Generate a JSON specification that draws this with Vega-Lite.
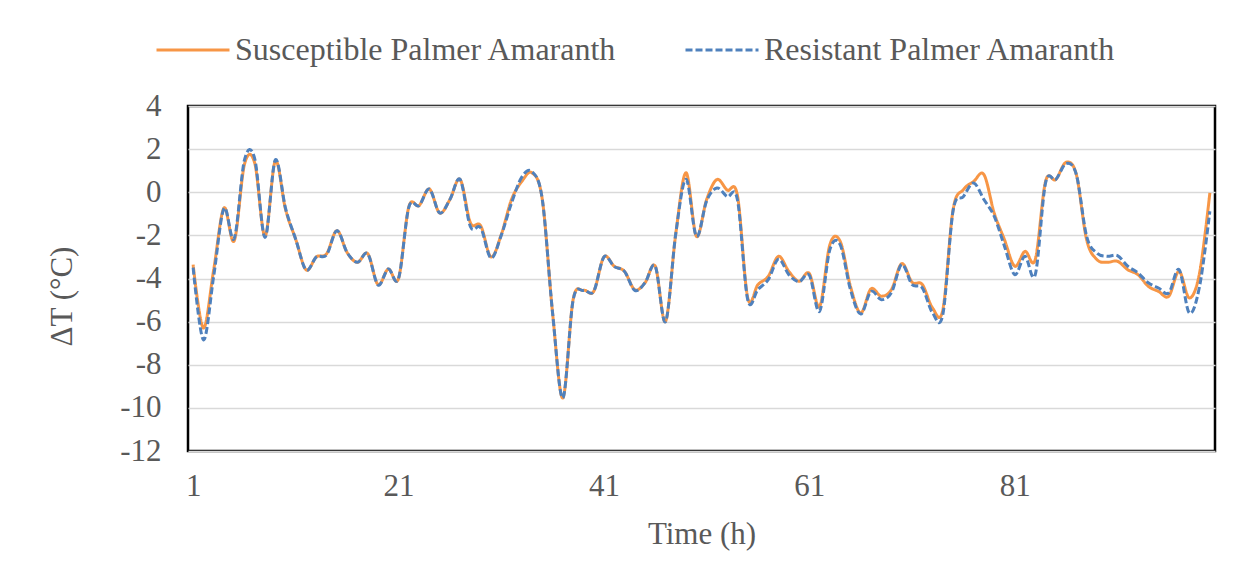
{
  "$schema": "https://vega.github.io/schema/vega-lite/v6.json",
  "width": 1027,
  "height": 345,
  "autosize": {"type": "none"},
  "padding": {"left": 188, "top": 106, "right": 29, "bottom": 128},
  "background": "white",
  "config": {
    "font": "Liberation Serif",
    "view": {"stroke": "black", "strokeWidth": 2.5},
    "axis": {"labelFont": "Liberation Serif", "titleFont": "Liberation Serif", "labelColor": "#595959", "titleColor": "#595959", "labelFontSize": 31, "titleFontSize": 31, "titleFontWeight": "normal"},
    "legend": {"labelFont": "Liberation Serif", "labelColor": "#595959", "labelFontSize": 32}
  },
  "data": {
    "values": [
      {"h": 1, "Susceptible": -3.36, "Resistant": -3.5},
      {"h": 2, "Susceptible": -6.3, "Resistant": -6.85},
      {"h": 3, "Susceptible": -3.6, "Resistant": -3.9},
      {"h": 4, "Susceptible": -0.73, "Resistant": -0.75},
      {"h": 5, "Susceptible": -2.25, "Resistant": -2.15},
      {"h": 6, "Susceptible": 1.3, "Resistant": 1.5},
      {"h": 7, "Susceptible": 1.35, "Resistant": 1.55},
      {"h": 8, "Susceptible": -2.04, "Resistant": -2.1},
      {"h": 9, "Susceptible": 1.45, "Resistant": 1.5},
      {"h": 10, "Susceptible": -0.8, "Resistant": -0.75},
      {"h": 11, "Susceptible": -2.2, "Resistant": -2.2},
      {"h": 12, "Susceptible": -3.6, "Resistant": -3.6},
      {"h": 13, "Susceptible": -3.0, "Resistant": -3.0},
      {"h": 14, "Susceptible": -2.85, "Resistant": -2.9},
      {"h": 15, "Susceptible": -1.78, "Resistant": -1.78},
      {"h": 16, "Susceptible": -2.8, "Resistant": -2.8},
      {"h": 17, "Susceptible": -3.25, "Resistant": -3.25},
      {"h": 18, "Susceptible": -2.85, "Resistant": -2.85},
      {"h": 19, "Susceptible": -4.28, "Resistant": -4.3},
      {"h": 20, "Susceptible": -3.56, "Resistant": -3.56},
      {"h": 21, "Susceptible": -4.0, "Resistant": -4.0},
      {"h": 22, "Susceptible": -0.68, "Resistant": -0.7},
      {"h": 23, "Susceptible": -0.62, "Resistant": -0.62},
      {"h": 24, "Susceptible": 0.15, "Resistant": 0.15},
      {"h": 25, "Susceptible": -0.96, "Resistant": -0.96},
      {"h": 26, "Susceptible": -0.34, "Resistant": -0.34},
      {"h": 27, "Susceptible": 0.59, "Resistant": 0.59},
      {"h": 28, "Susceptible": -1.42, "Resistant": -1.6},
      {"h": 29, "Susceptible": -1.55, "Resistant": -1.65},
      {"h": 30, "Susceptible": -3.0, "Resistant": -3.05},
      {"h": 31, "Susceptible": -1.97, "Resistant": -2.0},
      {"h": 32, "Susceptible": -0.34, "Resistant": -0.5},
      {"h": 33, "Susceptible": 0.5, "Resistant": 0.7},
      {"h": 34, "Susceptible": 0.9, "Resistant": 0.95},
      {"h": 35, "Susceptible": -0.34, "Resistant": -0.34},
      {"h": 36, "Susceptible": -5.6, "Resistant": -5.6},
      {"h": 37, "Susceptible": -9.54, "Resistant": -9.54},
      {"h": 38, "Susceptible": -4.98, "Resistant": -5.0},
      {"h": 39, "Susceptible": -4.55, "Resistant": -4.55},
      {"h": 40, "Susceptible": -4.6, "Resistant": -4.6},
      {"h": 41, "Susceptible": -3.0, "Resistant": -3.0},
      {"h": 42, "Susceptible": -3.43, "Resistant": -3.45},
      {"h": 43, "Susceptible": -3.67, "Resistant": -3.67},
      {"h": 44, "Susceptible": -4.52, "Resistant": -4.55},
      {"h": 45, "Susceptible": -4.2, "Resistant": -4.2},
      {"h": 46, "Susceptible": -3.43, "Resistant": -3.43},
      {"h": 47, "Susceptible": -5.99, "Resistant": -6.0},
      {"h": 48, "Susceptible": -1.9, "Resistant": -1.9},
      {"h": 49, "Susceptible": 0.9, "Resistant": 0.6},
      {"h": 50, "Susceptible": -2.04, "Resistant": -2.04},
      {"h": 51, "Susceptible": -0.34, "Resistant": -0.4},
      {"h": 52, "Susceptible": 0.59, "Resistant": 0.2},
      {"h": 53, "Susceptible": 0.1, "Resistant": -0.2},
      {"h": 54, "Susceptible": -0.15, "Resistant": -0.35},
      {"h": 55, "Susceptible": -4.9, "Resistant": -4.98},
      {"h": 56, "Susceptible": -4.28, "Resistant": -4.5},
      {"h": 57, "Susceptible": -3.9, "Resistant": -4.05},
      {"h": 58, "Susceptible": -2.97, "Resistant": -3.1},
      {"h": 59, "Susceptible": -3.67, "Resistant": -3.82},
      {"h": 60, "Susceptible": -4.13, "Resistant": -4.15},
      {"h": 61, "Susceptible": -3.77, "Resistant": -3.85},
      {"h": 62, "Susceptible": -5.3, "Resistant": -5.52},
      {"h": 63, "Susceptible": -2.43, "Resistant": -2.66},
      {"h": 64, "Susceptible": -2.27, "Resistant": -2.43},
      {"h": 65, "Susceptible": -4.36, "Resistant": -4.51},
      {"h": 66, "Susceptible": -5.6, "Resistant": -5.65},
      {"h": 67, "Susceptible": -4.48, "Resistant": -4.6},
      {"h": 68, "Susceptible": -4.82, "Resistant": -4.98},
      {"h": 69, "Susceptible": -4.51, "Resistant": -4.65},
      {"h": 70, "Susceptible": -3.31, "Resistant": -3.35},
      {"h": 71, "Susceptible": -4.17, "Resistant": -4.28},
      {"h": 72, "Susceptible": -4.28, "Resistant": -4.44},
      {"h": 73, "Susceptible": -5.37, "Resistant": -5.6},
      {"h": 74, "Susceptible": -5.45, "Resistant": -5.67},
      {"h": 75, "Susceptible": -0.8, "Resistant": -0.85},
      {"h": 76, "Susceptible": 0.12, "Resistant": -0.2},
      {"h": 77, "Susceptible": 0.5, "Resistant": 0.43},
      {"h": 78, "Susceptible": 0.82, "Resistant": -0.34},
      {"h": 79, "Susceptible": -0.96, "Resistant": -1.11},
      {"h": 80, "Susceptible": -2.2, "Resistant": -2.5},
      {"h": 81, "Susceptible": -3.43, "Resistant": -3.82},
      {"h": 82, "Susceptible": -2.74, "Resistant": -2.97},
      {"h": 83, "Susceptible": -3.12, "Resistant": -3.82},
      {"h": 84, "Susceptible": 0.5, "Resistant": 0.43},
      {"h": 85, "Susceptible": 0.59, "Resistant": 0.59},
      {"h": 86, "Susceptible": 1.39, "Resistant": 1.33},
      {"h": 87, "Susceptible": 0.82, "Resistant": 0.82},
      {"h": 88, "Susceptible": -2.2, "Resistant": -2.04},
      {"h": 89, "Susceptible": -3.12, "Resistant": -2.82},
      {"h": 90, "Susceptible": -3.25, "Resistant": -2.97},
      {"h": 91, "Susceptible": -3.2, "Resistant": -2.94},
      {"h": 92, "Susceptible": -3.59, "Resistant": -3.43},
      {"h": 93, "Susceptible": -3.82, "Resistant": -3.74},
      {"h": 94, "Susceptible": -4.36, "Resistant": -4.2},
      {"h": 95, "Susceptible": -4.6, "Resistant": -4.44},
      {"h": 96, "Susceptible": -4.82, "Resistant": -4.67},
      {"h": 97, "Susceptible": -3.67, "Resistant": -3.59},
      {"h": 98, "Susceptible": -4.9, "Resistant": -5.6},
      {"h": 99, "Susceptible": -3.74, "Resistant": -4.36},
      {"h": 100, "Susceptible": -0.03, "Resistant": -0.88}
    ]
  },
  "transform": [{"fold": ["Susceptible", "Resistant"], "as": ["series", "dT"]}],
  "mark": {"type": "line", "interpolate": "cardinal", "strokeWidth": 3},
  "encoding": {
    "x": {
      "field": "h", "type": "quantitative",
      "scale": {"domain": [0.5, 100.5], "nice": false, "zero": false},
      "axis": {"values": [1, 21, 41, 61, 81], "grid": false, "ticks": false, "domain": false, "labelPadding": 20, "title": "Time (h)", "titlePadding": 18, "labelFlush": false}
    },
    "y": {
      "field": "dT", "type": "quantitative",
      "scale": {"domain": [-12, 4], "nice": false},
      "axis": {"values": [-12, -10, -8, -6, -4, -2, 0, 2, 4], "labelExpr": "'' + datum.value", "grid": true, "gridColor": "#D9D9D9", "gridWidth": 1.5, "ticks": false, "tickSize": 0, "domain": false, "labelPadding": 27, "title": "ΔT (°C)", "titleAngle": 270, "titleAlign": "center", "titleBaseline": "middle", "titleX": -126, "titleY": 190}
    },
    "color": {
      "field": "series", "type": "nominal",
      "scale": {"domain": ["Susceptible", "Resistant"], "range": ["#F79646", "#4F81BD"]},
      "legend": {"title": null, "orient": "none", "legendX": -33, "legendY": -94, "direction": "horizontal", "columns": 2, "columnPadding": 61, "padding": 0, "symbolType": "stroke", "symbolSize": 5329, "symbolStrokeWidth": 3, "labelOffset": 4, "labelExpr": "datum.label + ' Palmer Amaranth'", "labelLimit": 0}
    },
    "strokeDash": {
      "field": "series", "type": "nominal",
      "scale": {"domain": ["Susceptible", "Resistant"], "range": [[1, 0], [7, 3]]},
      "legend": {"title": null, "orient": "none", "legendX": -33, "legendY": -94, "direction": "horizontal", "columns": 2, "columnPadding": 61, "padding": 0, "symbolType": "stroke", "symbolSize": 5329, "symbolStrokeWidth": 3, "labelOffset": 4, "labelExpr": "datum.label + ' Palmer Amaranth'", "labelLimit": 0}
    }
  }
}
